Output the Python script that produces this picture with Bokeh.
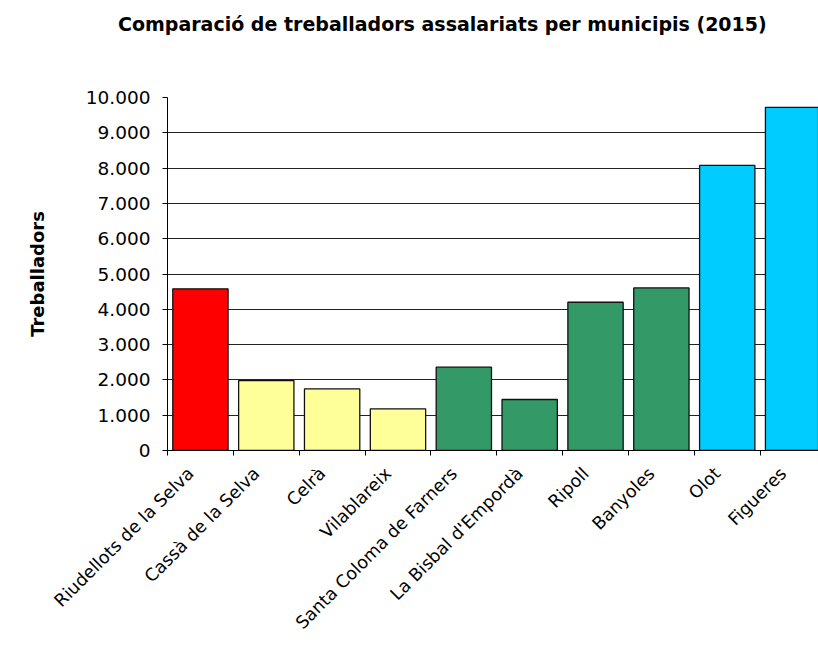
import math
from bokeh.plotting import figure
from bokeh.layouts import column
from bokeh.models import Range1d, FixedTicker, Div, ColumnDataSource
from bokeh.embed import file_html
from bokeh.resources import INLINE

# ---- data ----
municipis = ["Riudellots de la Selva", "Cassà de la Selva", "Celrà", "Vilablareix",
             "Santa Coloma de Farners", "La Bisbal d'Empordà", "Ripoll", "Banyoles",
             "Olot", "Figueres"]
treballadors = [4580, 1980, 1745, 1180, 2360, 1445, 4200, 4605, 8075, 9720]
grup = ["municipi", "proper", "proper", "proper", "capital", "capital", "capital",
        "capital", "gran", "gran"]
y_ticks = [0, 1000, 2000, 3000, 4000, 5000, 6000, 7000, 8000, 9000, 10000]
y_tick_labels = ["0", "1.000", "2.000", "3.000", "4.000", "5.000", "6.000",
                 "7.000", "8.000", "9.000", "10.000"]
titol = "Comparació de treballadors assalariats per municipis (2015)"
titol_eix_y = "Treballadors"

colors_grup = {"municipi": "#FF0000", "proper": "#FFFF99",
               "capital": "#339966", "gran": "#00CCFF"}

FONT = "DejaVu Sans"
LABEL_SHIFT = 0.15   # rotated labels end slightly left of the category centre
TITLE_H = 40

xs = list(range(len(municipis)))
src = ColumnDataSource(dict(x=xs, top=treballadors,
                            color=[colors_grup[g] for g in grup]))

p = figure(width=818, height=646 - TITLE_H,
           x_range=Range1d(-0.5, 9.386), y_range=Range1d(0, 10000),
           output_backend="svg", toolbar_location=None,
           min_border_left=167, min_border_right=0,
           min_border_top=97 - TITLE_H, min_border_bottom=196)
p.title = None
p.outline_line_color = None
p.background_fill_color = "white"
p.border_fill_color = "white"
p.margin = (0, 0, 0, 0)

p.vbar(x="x", top="top", width=0.84, fill_color="color",
       line_color="#111111", line_width=1.3, source=src)

# grid
p.xgrid.visible = False
p.ygrid.grid_line_color = "#222222"
p.ygrid.grid_line_width = 1

# y axis
p.yaxis.ticker = FixedTicker(ticks=y_ticks)
p.yaxis.major_label_overrides = {t: l for t, l in zip(y_ticks, y_tick_labels)}
p.yaxis.major_tick_out = 5
p.yaxis.major_tick_in = 0
p.yaxis.minor_tick_out = 0
p.yaxis.minor_tick_in = 0
p.yaxis.major_label_standoff = 12
p.yaxis.major_label_text_font = FONT
p.yaxis.major_label_text_font_size = "18.5px"
p.yaxis.major_label_text_color = "black"
p.yaxis.axis_line_color = "black"
p.yaxis.major_tick_line_color = "black"
p.yaxis.axis_label = titol_eix_y
p.yaxis.axis_label_text_font = FONT
p.yaxis.axis_label_text_font_size = "18px"
p.yaxis.axis_label_text_font_style = "bold"
p.yaxis.axis_label_text_color = "black"
p.yaxis.axis_label_standoff = 35

# x axis: labels near category centres, ticks at category boundaries
label_ticks = [round(i - LABEL_SHIFT, 3) for i in xs]
p.xaxis.ticker = FixedTicker(ticks=label_ticks,
                             minor_ticks=[i - 0.5 for i in range(len(municipis) + 1)])
p.xaxis.major_label_overrides = {t: m for t, m in zip(label_ticks, municipis)}
p.xaxis.major_label_orientation = math.pi / 4
p.xaxis.major_tick_out = 0
p.xaxis.major_tick_in = 0
p.xaxis.minor_tick_out = 5
p.xaxis.minor_tick_in = 0
p.xaxis.minor_tick_line_color = "black"
p.xaxis.major_label_standoff = 15
p.xaxis.major_label_text_font = FONT
p.xaxis.major_label_text_font_size = "17.5px"
p.xaxis.major_label_text_color = "black"
p.xaxis.axis_line_color = "black"

# title as a block above the chart
title_div = Div(text=titol, width=818, height=TITLE_H, margin=(0, 0, 0, 0),
                styles={"font-family": "'DejaVu Sans', sans-serif",
                        "font-size": "19px", "font-weight": "bold",
                        "color": "black", "padding-left": "118px",
                        "padding-top": "13px", "line-height": "22px",
                        "white-space": "nowrap", "box-sizing": "border-box"})

layout = column(title_div, p, spacing=0, margin=(0, 0, 0, 0))

open("out.html", "w").write(file_html(layout, INLINE))
